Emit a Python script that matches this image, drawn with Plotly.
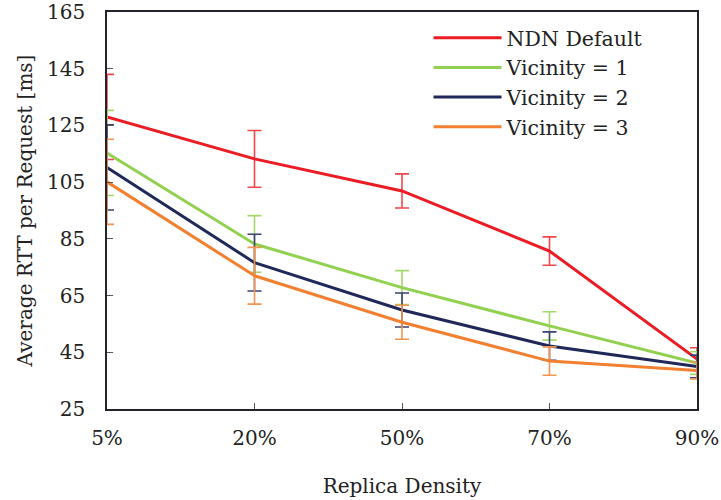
import plotly.graph_objects as go

# Replica density levels on the x axis
densities = ["5%", "20%", "50%", "70%", "90%"]

# Mean RTT per request [ms] for each strategy
ndn_default = [128.0, 113.2, 101.9, 80.7, 42.6]
vicinity_1 = [115.3, 83.2, 67.8, 54.3, 41.2]
vicinity_2 = [110.2, 76.6, 59.9, 47.2, 40.0]
vicinity_3 = [105.1, 72.0, 55.6, 41.9, 38.6]

# Symmetric error (± ms) at each density
ndn_default_err = [15, 10, 6, 5, 4]
vicinity_1_err = [15, 10, 6, 5, 4]
vicinity_2_err = [15, 10, 6, 5, 4]
vicinity_3_err = [15, 10, 6, 5, 3]

y_ticks = [25, 45, 65, 85, 105, 125, 145, 165]

series = [
    ("NDN Default", ndn_default, ndn_default_err, "#ec1c24", "#f0464c"),
    ("Vicinity = 1", vicinity_1, vicinity_1_err, "#92d050", "#a3d86a"),
    ("Vicinity = 2", vicinity_2, vicinity_2_err, "#1f2858", "#3a4272"),
    ("Vicinity = 3", vicinity_3, vicinity_3_err, "#f28030", "#f4944e"),
]

FONT = "DejaVu Serif"

fig = go.Figure()
for name, vals, errs, color, ecolor in series:
    fig.add_trace(go.Scatter(
        x=densities, y=vals, name=name, mode="lines",
        line=dict(color=color, width=3),
        error_y=dict(type="data", array=errs, visible=True,
                     color=ecolor, thickness=1.6, width=7),
    ))

axis_line = dict(showline=True, linecolor="#23232b", linewidth=1.5, mirror=True,
                 ticks="inside", ticklen=6, tickcolor="#555",
                 showgrid=False, zeroline=False, automargin=False)

fig.update_layout(
    width=721, height=500,
    margin=dict(l=107, r=24, t=12, b=91),
    paper_bgcolor="white", plot_bgcolor="white",
    font=dict(family=FONT, size=20, color="#222"),
    showlegend=True,
    legend=dict(x=0.545, y=0.985, xanchor="left", yanchor="top",
                bgcolor="rgba(0,0,0,0)", font=dict(family=FONT, size=20.5),
                itemwidth=68, tracegroupgap=0),
    xaxis=dict(title=dict(text="Replica Density", standoff=30,
                          font=dict(family=FONT, size=20)),
               type="category", range=[0, 4],
               tickfont=dict(family=FONT, size=20),
               ticklabelstandoff=10, **axis_line),
    yaxis=dict(title=dict(text="Average RTT per Request [ms]", standoff=9,
                          font=dict(family=FONT, size=20)),
               range=[25, 165], tickvals=y_ticks,
               tickfont=dict(family=FONT, size=20),
               ticklabelstandoff=16, **axis_line),
)

fig.write_html("out.html")
